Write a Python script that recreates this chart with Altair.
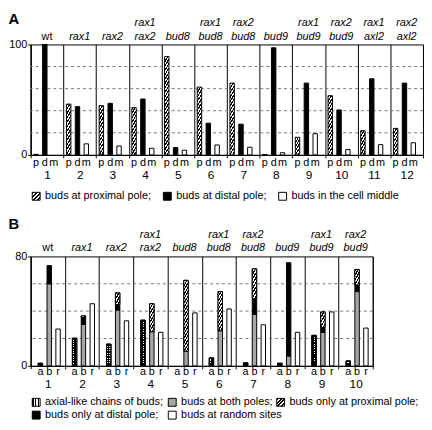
import altair as alt
import pandas as pd

# ---------------- panel A data ----------------
groups_a = list(range(1, 13))
genotypes_a = ["wt", "rax1", "rax2", "rax1\nrax2", "bud8", "rax1\nbud8",
               "rax2\nbud8", "bud9", "rax1\nbud9", "rax2\nbud9", "rax1\naxl2", "rax2\naxl2"]
series_a = ["p", "d", "m"]
proximal_a = [0.5, 46, 44.6, 42.8, 89, 61.4, 65, 0.3, 15.9, 53.6, 21.9, 24]
distal_a = [100, 43.7, 46.7, 50.6, 6.6, 28.7, 27.8, 97, 65, 40.7, 68.9, 65]
middle_a = [0, 10, 8, 6, 4.2, 9, 6.9, 2, 19.2, 4.8, 9.3, 11]
ticks_a = [0, 100]
grid_a = [20, 40, 60, 80]
legend_a = ["buds at proximal pole;", "buds at distal pole;", "buds in the cell middle"]

# ---------------- panel B data ----------------
groups_b = list(range(1, 11))
genotypes_b = ["wt", "rax1", "rax2", "rax1\nrax2", "bud8", "rax1\nbud8",
               "rax2\nbud8", "bud9", "rax1\nbud9", "rax2\nbud9"]
series_b = ["a", "b", "r"]
chains_b = [1.9, 20.2, 15.9, 33.4, 0, 5.8, 2.2, 1.9, 22.3, 3.6]
both_b = [60, 30.3, 40.8, 25, 10.6, 25.7, 37.7, 7.2, 24.5, 54.3]
distal_b = [13.3, 5, 3.9, 0, 0, 0, 11.5, 68.2, 3.6, 4.8]
proximal_b = [0, 1.2, 8.6, 20.4, 51.9, 28.6, 21.7, 0, 11.3, 11.3]
random_b = [26.9, 45.4, 32.9, 24.5, 38.7, 41.6, 30, 24.5, 39.4, 27.6]
ticks_b = [0, 80]
grid_b = [20, 40, 60]
legend_b = ["axial-like chains of buds;", "buds at both poles;", "buds only at proximal pole;",
            "buds only at distal pole;", "buds at random sites"]
panel_letters = ["A", "B"]

FONT = "Liberation Sans"
WA, HA = 398, 112
WB, HB = 347, 111
X0 = 30.4          # page x of the plot's left edge (for legend placement)
PAD_OUT = 0.7
HATCH = 4.5
DOT = 2.4
LH = 13.5


def stripes(gid, n, frac, x2, y2, on="black", off="white"):
    stops = []
    for i in range(n):
        a, b, c = i / n, (i + frac) / n, (i + 1) / n
        stops += [{"offset": a, "color": on}, {"offset": b, "color": on},
                  {"offset": b, "color": off}, {"offset": c, "color": off}]
    return {"gradient": "linear", "id": gid, "x1": 0, "y1": 0, "x2": x2, "y2": y2, "stops": stops}


def hatch(gid, w, h):
    w = max(w, 0.5)
    h = max(h, 0.5)
    L = w + h
    n = max(1, round(L / HATCH))
    k = L / (w * w + h * h)
    return stripes(gid, n, 0.5, k * w, k * h)


def x_enc(pad):
    return alt.X("group:O", title=None,
                 scale=alt.Scale(paddingInner=0, paddingOuter=0),
                 axis=alt.Axis(labelAngle=0, labelFontSize=12, labelColor="black",
                               labelPadding=pad, tickBand="extent", grid=True,
                               gridColor="black", gridOpacity=1, gridWidth=1,
                               domainColor="black", tickColor="black", tickSize=3))


def xo_enc(order):
    return alt.XOffset("series:N", sort=order,
                       scale=alt.Scale(paddingInner=0, paddingOuter=PAD_OUT))


def y_axis(vals):
    return alt.Axis(values=vals, grid=False, domainColor="black", tickColor="black",
                    tickSize=3, labelFontSize=11, labelColor="black", labelPadding=1)


def legend_item(label, sx, cy, fill):
    d = pd.DataFrame({"label": [label]})
    sym = alt.Chart(d).mark_rect(fill=fill, stroke="black", strokeWidth=1).encode(
        x=alt.value(sx - X0), x2=alt.value(sx - X0 + 8),
        y=alt.value(cy - 4), y2=alt.value(cy + 4))
    txt = alt.Chart(d).mark_text(align="left", baseline="middle", fontSize=11,
                                 color="black").encode(
        x=alt.value(sx - X0 + 13), y=alt.value(cy), text="label:N")
    return [sym, txt]


def genotype_layers(groups, genotypes, x):
    lab = pd.DataFrame({
        "group": groups,
        "upper": [g.split("\n")[0] if "\n" in g else "" for g in genotypes],
        "lower": [g.split("\n")[-1] for g in genotypes],
    })
    out = []
    for field, yy in (("lower", -3), ("upper", -3 - LH)):
        out.append(alt.Chart(lab).transform_filter(f"datum.{field} == 'wt'").mark_text(
            fontSize=11, baseline="bottom", color="black").encode(
            x=x, y=alt.value(yy), text=f"{field}:N"))
        out.append(alt.Chart(lab).transform_filter(
            f"datum.{field} != 'wt' && datum.{field} != ''").mark_text(
            fontSize=11, fontStyle="italic", baseline="bottom", color="black").encode(
            x=x, y=alt.value(yy), text=f"{field}:N"))
    return out


def panel_letter(letter, yy):
    return alt.Chart(pd.DataFrame({"label": [letter]})).mark_text(
        fontSize=15, fontWeight="bold", align="left", baseline="alphabetic",
        color="black").encode(x=alt.value(8 - X0), y=alt.value(yy), text="label:N")


# ================= panel A =================
rows = []
for g, p, dd, m in zip(groups_a, proximal_a, distal_a, middle_a):
    for s, v in zip(series_a, (p, dd, m)):
        rows.append({"group": g, "series": s, "value": v})
df_a = pd.DataFrame(rows)
grid_df_a = pd.DataFrame({"value": grid_a})

xa = x_enc(12)
xoa = xo_enc(series_a)
ya = alt.Y("value:Q", title=None, scale=alt.Scale(domain=[0, 100], nice=False),
           axis=y_axis(ticks_a))
bar_w_a = WA / len(groups_a) / (len(series_a) + 2 * PAD_OUT)

layers_a = [
    alt.Chart(grid_df_a).mark_rule(color="#777777", strokeDash=[3, 3], strokeWidth=1).encode(y=ya),
    alt.Chart(df_a).transform_filter("datum.series != 'p' && datum.value > 0").mark_bar(
        stroke="black", strokeWidth=1).encode(
        x=xa, xOffset=xoa, y=ya,
        fill=alt.Fill("series:N", scale=alt.Scale(domain=["d", "m"], range=["black", "white"]),
                      legend=None)),
]
for g, v in zip(groups_a, proximal_a):
    if v <= 0:
        continue
    grad = hatch(f"hatchA{g}", bar_w_a, v * HA / 100)
    layers_a.append(
        alt.Chart(df_a).transform_filter(f"datum.group == {g} && datum.series == 'p'")
        .mark_bar(fill=grad, stroke="black", strokeWidth=1)
        .encode(x=xa, xOffset=xoa, y=ya))
layers_a.append(
    alt.Chart(df_a).mark_text(fontSize=11, baseline="middle", color="black").encode(
        x=xa, xOffset=xoa, y=alt.value(HA + 8), text="series:N"))
layers_a += genotype_layers(groups_a, genotypes_a, xa)
layers_a.append(panel_letter(panel_letters[0], -21))
cya = HA + 42
layers_a += legend_item(legend_a[0], 32, cya, hatch("hatchLegA", 8, 8))
layers_a += legend_item(legend_a[1], 165, cya, "black")
layers_a += legend_item(legend_a[2], 282, cya, "white")

chart_a = alt.layer(*layers_a).properties(width=WA, height=HA)

# ================= panel B =================
rows = []
for g, c, bo, di, pr, ra in zip(groups_b, chains_b, both_b, distal_b, proximal_b, random_b):
    rows.append({"group": g, "series": "a", "seg": "chain", "order": 0, "value": c})
    rows.append({"group": g, "series": "b", "seg": "both", "order": 1, "value": bo})
    rows.append({"group": g, "series": "b", "seg": "distal", "order": 2, "value": di})
    rows.append({"group": g, "series": "b", "seg": "proximal", "order": 3, "value": pr})
    rows.append({"group": g, "series": "r", "seg": "random", "order": 4, "value": ra})
df_b = pd.DataFrame(rows)
pdm_b = pd.DataFrame([{"group": g, "series": s} for g in groups_b for s in series_b])
grid_df_b = pd.DataFrame({"value": grid_b})

xb = x_enc(10)
xob = xo_enc(series_b)
scale_b = alt.Scale(domain=[0, 80], nice=False)
yb = alt.Y("v0:Q", title=None, scale=scale_b, axis=y_axis(ticks_b))
yb2 = alt.Y2("v1:Q")
yg = alt.Y("value:Q", title=None, scale=scale_b, axis=y_axis(ticks_b))
bar_w_b = WB / len(groups_b) / (len(series_b) + 2 * PAD_OUT)


def stacked(d):
    return alt.Chart(d).transform_stack(
        stack="value", groupby=["group", "series"], as_=["v0", "v1"],
        sort=[alt.SortField("order", order="ascending")])


layers_b = [
    alt.Chart(grid_df_b).mark_rule(color="#777777", strokeDash=[3, 3], strokeWidth=1).encode(y=yg),
    stacked(df_b).transform_filter("datum.value > 0").mark_bar(stroke="black", strokeWidth=1).encode(
        x=xb, xOffset=xob, y=yb, y2=yb2,
        fill=alt.Fill("seg:N", scale=alt.Scale(
            domain=["chain", "both", "distal", "proximal", "random"],
            range=["white", "#a6a6a6", "black", "white", "white"]), legend=None)),
]
# dotted pattern for the axial-like chains
nv = max(1, round(bar_w_b / DOT))
vert = stripes("dotV", nv, 0.6, 1, 0, on="black", off="rgba(0,0,0,0)")
layers_b.append(
    stacked(df_b).transform_filter("datum.seg == 'chain' && datum.value > 0")
    .mark_bar(fill=vert, strokeWidth=0).encode(x=xb, xOffset=xob, y=yb, y2=yb2))
for g, v in zip(groups_b, chains_b):
    if v <= 0:
        continue
    h = v * HB / 80
    nh = max(1, round(h / DOT))
    hor = stripes(f"dotH{g}", nh, 0.6, 0, 1, on="black", off="rgba(0,0,0,0)")
    layers_b.append(
        stacked(df_b).transform_filter(f"datum.group == {g} && datum.seg == 'chain'")
        .mark_bar(fill=hor, stroke="black", strokeWidth=1).encode(x=xb, xOffset=xob, y=yb, y2=yb2))
for g, v in zip(groups_b, proximal_b):
    if v <= 0:
        continue
    grad = hatch(f"hatchB{g}", bar_w_b, v * HB / 80)
    layers_b.append(
        stacked(df_b).transform_filter(f"datum.group == {g} && datum.seg == 'proximal'")
        .mark_bar(fill=grad, stroke="black", strokeWidth=1).encode(x=xb, xOffset=xob, y=yb, y2=yb2))
layers_b.append(
    alt.Chart(pdm_b).mark_text(fontSize=11, baseline="middle", color="black").encode(
        x=xb, xOffset=xob, y=alt.value(HB + 6), text="series:N"))
layers_b += genotype_layers(groups_b, genotypes_b, xb)
layers_b.append(panel_letter(panel_letters[1], -28))
cy1 = HB + 37
cy2 = HB + 50
dot_leg = stripes("dotLeg", 3, 0.6, 1, 0)
layers_b += legend_item(legend_b[0], 32, cy1, dot_leg)
layers_b += legend_item(legend_b[1], 170, cy1, "#a6a6a6")
layers_b += legend_item(legend_b[2], 280, cy1, hatch("hatchLegB", 8, 8))
layers_b += legend_item(legend_b[3], 32, cy2, "black")
layers_b += legend_item(legend_b[4], 170, cy2, "white")

chart_b = alt.layer(*layers_b).properties(width=WB, height=HB)

chart = alt.vconcat(chart_a, chart_b, spacing=14).resolve_scale(
    fill="independent"
).properties(
    padding={"left": 0, "top": 0, "right": 0, "bottom": 0}
).configure(font=FONT).configure_view(stroke="black", strokeWidth=1)

chart.save("out.html", embed_options={"renderer": "svg", "actions": False})
